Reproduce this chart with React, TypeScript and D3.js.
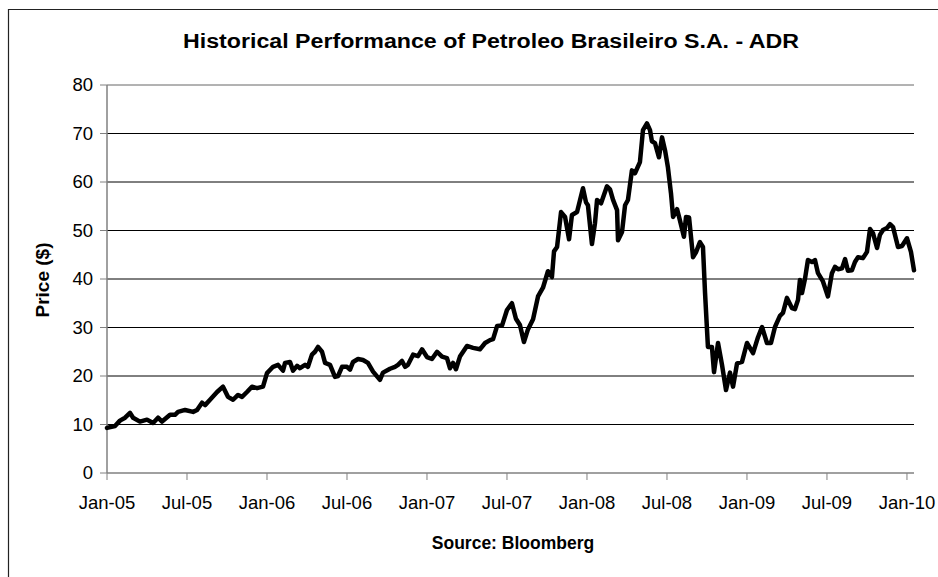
import React from "react";
import * as d3 from "d3";

// time in decimal years (2005.0 = Jan 1, 2005), price in $
const times: number[] = [
  0.000, 0.050, 0.081, 0.113, 0.144, 0.163, 0.206, 0.250, 0.288, 0.319, 0.344, 0.394, 0.425, 0.444, 0.488,
  0.538, 0.563, 0.594, 0.613, 0.644, 0.688, 0.725, 0.756, 0.788, 0.819, 0.844, 0.875, 0.906, 0.938, 0.975,
  1.000, 1.038, 1.069, 1.100, 1.113, 1.144, 1.163, 1.188, 1.206, 1.238, 1.256, 1.281, 1.300, 1.319, 1.344,
  1.363, 1.394, 1.425, 1.444, 1.469, 1.500, 1.519, 1.538, 1.569, 1.600, 1.631, 1.663, 1.706, 1.725, 1.769,
  1.800, 1.819, 1.844, 1.863, 1.881, 1.913, 1.944, 1.969, 2.000, 2.031, 2.063, 2.094, 2.125, 2.144, 2.163,
  2.181, 2.206, 2.250, 2.288, 2.331, 2.363, 2.394, 2.413, 2.438, 2.469, 2.500, 2.531, 2.556, 2.581, 2.606,
  2.631, 2.663, 2.694, 2.725, 2.756, 2.781, 2.794, 2.813, 2.838, 2.863, 2.888, 2.906, 2.938, 2.975, 2.994,
  3.006, 3.031, 3.050, 3.063, 3.088, 3.125, 3.144, 3.163, 3.188, 3.194, 3.219, 3.238, 3.256, 3.281, 3.300,
  3.331, 3.350, 3.375, 3.394, 3.406, 3.425, 3.450, 3.469, 3.488, 3.506, 3.525, 3.538, 3.563, 3.581, 3.606,
  3.619, 3.638, 3.663, 3.681, 3.706, 3.725, 3.738, 3.756, 3.781, 3.794, 3.819, 3.844, 3.869, 3.894, 3.913,
  3.938, 3.969, 4.000, 4.038, 4.069, 4.094, 4.125, 4.150, 4.175, 4.206, 4.225, 4.250, 4.281, 4.300, 4.319,
  4.331, 4.344, 4.363, 4.381, 4.406, 4.425, 4.444, 4.475, 4.506, 4.531, 4.550, 4.569, 4.594, 4.613, 4.631,
  4.656, 4.675, 4.694, 4.725, 4.750, 4.769, 4.788, 4.813, 4.831, 4.850, 4.875, 4.894, 4.913, 4.944, 4.969,
  5.000, 5.025, 5.044,
];

const prices: number[] = [
  9.3, 9.7, 10.8, 11.4, 12.4, 11.4, 10.6, 11.0, 10.3, 11.4, 10.6, 12.0, 12.0, 12.6, 13.0,
  12.6, 13.0, 14.5, 14.0, 15.1, 16.7, 17.8, 15.7, 15.1, 16.1, 15.7, 16.7, 17.8, 17.5, 17.8,
  20.6, 21.9, 22.3, 21.1, 22.7, 22.9, 21.1, 22.1, 21.6, 22.3, 21.9, 24.4, 25.0, 26.0, 25.0,
  22.7, 22.3, 19.8, 20.0, 21.9, 21.9, 21.3, 22.9, 23.5, 23.3, 22.7, 20.9, 19.2, 20.7, 21.5,
  21.9, 22.3, 23.1, 21.9, 22.3, 24.4, 24.1, 25.5, 23.9, 23.5, 25.0, 24.0, 23.7, 21.6, 22.7,
  21.4, 24.0, 26.2, 25.8, 25.5, 26.8, 27.4, 27.6, 30.3, 30.4, 33.6, 35.0, 31.8, 30.5, 27.0,
  29.6, 31.7, 36.4, 38.2, 41.6, 40.4, 45.7, 46.6, 53.8, 52.8, 48.2, 53.2, 53.8, 58.7, 55.8,
  55.2, 47.2, 51.5, 56.3, 55.6, 59.1, 58.5, 56.3, 54.2, 48.0, 49.7, 55.2, 56.3, 62.4, 61.8,
  64.1, 70.7, 72.1, 70.7, 68.4, 68.0, 65.1, 69.2, 66.5, 63.0, 57.7, 52.8, 54.4, 52.1, 48.7,
  52.8, 52.7, 44.5, 45.5, 47.6, 46.6, 37.1, 26.0, 26.0, 20.8, 26.8, 22.3, 17.1, 20.7, 17.8,
  22.6, 22.9, 26.8, 24.7, 28.0, 30.1, 26.8, 26.8, 30.1, 32.4, 33.0, 36.1, 34.0, 33.8, 35.7,
  39.8, 37.1, 40.1, 43.9, 43.5, 43.9, 41.2, 39.5, 36.4, 41.2, 42.5, 42.0, 42.2, 44.1, 41.7,
  41.8, 43.5, 44.5, 44.3, 45.6, 50.3, 49.4, 46.4, 49.1, 50.1, 50.5, 51.3, 50.7, 46.6, 46.8,
  48.4, 45.6, 41.8,
];

const xTickLabels: string[] = ["Jan-05", "Jul-05", "Jan-06", "Jul-06", "Jan-07", "Jul-07", "Jan-08", "Jul-08", "Jan-09", "Jul-09", "Jan-10"];
const xTickValues: number[] = [0, 0.5, 1, 1.5, 2, 2.5, 3, 3.5, 4, 4.5, 5];
const yTickValues: number[] = [0, 10, 20, 30, 40, 50, 60, 70, 80];

const title = "Historical Performance of Petroleo Brasileiro S.A. - ADR";
const xTitle = "Source: Bloomberg";
const yTitle = "Price ($)";

export default function App() {
  const left = 107, right = 914, top = 85, bottom = 473;
  const x = d3.scaleLinear().domain([0, 5.044]).range([left, right]);
  const y = d3.scaleLinear().domain([0, 80]).range([bottom, top]);
  const data = times.map((t, i) => [t, prices[i]] as [number, number]);
  const line = d3.line<[number, number]>().x(d => x(d[0])).y(d => y(d[1]));
  const font = "'Liberation Sans', Arial, sans-serif";

  return (
    <svg width={938} height={577} style={{ position: "absolute", left: 0, top: 0, background: "#fff" }} fontFamily={font}>
      <rect x={0} y={0} width={938} height={577} fill="#fff" />
      <path d="M8.5,577 L8.5,9.5 L938,9.5" fill="none" stroke="#222" strokeWidth={1.2} />
      <text x={491} y={48} textAnchor="middle" fontSize={20} fontWeight="bold" textLength={616} lengthAdjust="spacingAndGlyphs">{title}</text>
      {yTickValues.filter(v => v > 0).map(v => (
        <line key={v} x1={left} x2={right} y1={y(v)} y2={y(v)} stroke={v === 80 ? "#666" : "#000"} strokeWidth={1} />
      ))}
      <line x1={left} x2={left} y1={top} y2={bottom} stroke="#808080" strokeWidth={1.5} />
      <line x1={left} x2={right} y1={bottom} y2={bottom} stroke="#808080" strokeWidth={1.5} />
      {yTickValues.map(v => (
        <g key={v}>
          <line x1={left - 7} x2={left} y1={y(v)} y2={y(v)} stroke="#808080" strokeWidth={1} />
          <text x={93} y={y(v)} dy="0.35em" textAnchor="end" fontSize={18.5}>{v}</text>
        </g>
      ))}
      {xTickValues.map((t, i) => (
        <g key={t}>
          <line x1={x(t)} x2={x(t)} y1={bottom} y2={bottom + 7} stroke="#808080" strokeWidth={1} />
          <text x={x(t)} y={503} dy="0.35em" textAnchor="middle" fontSize={18.5}>{xTickLabels[i]}</text>
        </g>
      ))}
      <path d={line(data) || ""} fill="none" stroke="#000" strokeWidth={4.5} strokeLinejoin="round" strokeLinecap="round" />
      <text x={513} y={543} dy="0.35em" textAnchor="middle" fontSize={17.5} fontWeight="bold">{xTitle}</text>
      <text transform={`translate(42,280) rotate(-90)`} dy="0.35em" textAnchor="middle" fontSize={19} fontWeight="bold">{yTitle}</text>
    </svg>
  );
}
